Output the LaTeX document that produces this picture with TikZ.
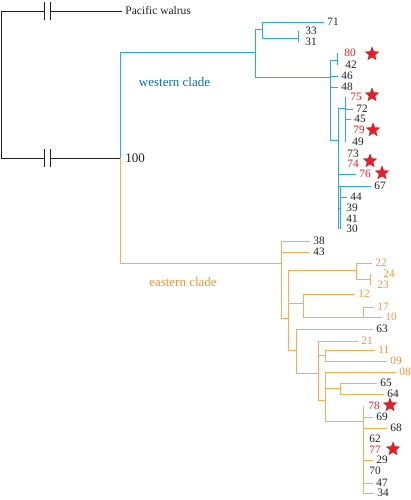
\documentclass[tikz,border=0pt]{standalone}
\usepackage{fontspec}
\setmainfont{Liberation Serif}
\usetikzlibrary{shapes.geometric}

\definecolor{ink}{RGB}{35,31,32}
\definecolor{wline}{RGB}{41,171,226}
\definecolor{wtext}{RGB}{0,114,188}
\definecolor{eline}{RGB}{249,172,80}
\definecolor{etext}{RGB}{247,148,52}
\definecolor{hit}{RGB}{237,28,36}

\tikzset{
  leaf/.style={anchor=west,inner sep=3pt,text=ink,font=\fontsize{11.3}{11.3}\selectfont},
  hitstar/.style={star,star points=5,star point ratio=2.3,minimum size=14pt,inner sep=0pt,
    fill=hit,draw=hit!75!black,line width=0.3pt},
  brk/.pic={\fill[white] (-2.6,-1.5) rectangle (2.6,1.5);
    \draw[ink,line width=0.9pt] (-2.9,-9) -- (-2.9,9) (2.9,-9) -- (2.9,9);}
}

\begin{document}
\begin{tikzpicture}[x=1pt,y=-1pt,line width=0.9pt]
      \useasboundingbox (0,0) rectangle (410,500);

      % forks
      \coordinate (root) at (1,84);
      \coordinate (n100) at (120,158);
      \coordinate (w1)  at (255,52);
      \coordinate (w2)  at (262,29);
      \coordinate (t31) at (298,38);
      \coordinate (w3)  at (330,77);
      \coordinate (t80) at (337,60);
      \coordinate (w4)  at (338,140);
      \coordinate (w5)  at (345,108);
      \coordinate (w6)  at (340,208);
      \coordinate (e1)  at (281,263);
      \coordinate (e2)  at (288,318);
      \coordinate (e3)  at (356,270);
      \coordinate (t24) at (370,279);
      \coordinate (e5)  at (303,303);
      \coordinate (e6)  at (363,317);
      \coordinate (e7)  at (296,350);
      \coordinate (e8)  at (318,373);
      \coordinate (e9)  at (325,355);
      \coordinate (e10) at (325,400);
      \coordinate (e11) at (340,388);
      \coordinate (e12) at (363,421);

      \begin{scope}[every node/.style={leaf}]
        \node[font=\fontsize{11.5}{11.5}\selectfont] (walrus) at (122,11) {Pacific walrus};
        \node[font=\fontsize{13}{13}\selectfont] (b100) at (122,158) {100};
        % western
        \node (l71) at (324,22)  {71};
        \node (l33) at (302,31)  {33};
        \node (l31) at (302,42)  {31};
        \node[text=hit] (l80) at (341,53)  {80};
        \node (l42) at (342,65)  {42};
        \node (l46) at (338,76)  {46};
        \node (l48) at (338,87)  {48};
        \node[text=hit] (l75) at (347,97)  {75};
        \node (l72) at (353,109) {72};
        \node (l45) at (351,119) {45};
        \node[text=hit] (l79) at (350,130) {79};
        \node (l49) at (349,142) {49};
        \node (l73) at (344,154) {73};
        \node[text=hit] (l74) at (344,164) {74};
        \node[text=hit] (l76) at (356,174) {76};
        \node (l67) at (371,186) {67};
        \node (l44) at (347,197) {44};
        \node (l39) at (343,208) {39};
        \node (l41) at (343,219) {41};
        \node (l30) at (343,229) {30};
        % eastern
        \node (l38) at (310,241) {38};
        \node (l43) at (310,252) {43};
        \node[text=etext] (l22) at (372,263) {22};
        \node[text=etext] (l24) at (380,274) {24};
        \node[text=etext] (l23) at (374,285) {23};
        \node[text=etext] (l12) at (355,294) {12};
        \node[text=etext] (l17) at (374,307) {17};
        \node[text=etext] (l10) at (382,317) {10};
        \node (l63) at (373,329) {63};
        \node[text=etext] (l21) at (358,341) {21};
        \node[text=etext] (l11) at (375,350) {11};
        \node[text=etext] (l09) at (387,361) {09};
        \node[text=etext] (l08) at (396,372) {08};
        \node (l65) at (377,383) {65};
        \node (l64) at (384,394) {64};
        \node[text=hit] (l78) at (365,406) {78};
        \node (l69) at (373,417) {69};
        \node (l68) at (387,428) {68};
        \node (l62) at (366,439) {62};
        \node[text=hit] (l77) at (366,450) {77};
        \node (l29) at (373,460) {29};
        \node (l70) at (366,471) {70};
        \node (l47) at (373,483) {47};
        \node (l34) at (374,493) {34};
      \end{scope}

      \node[text=wtext,font=\fontsize{13}{13}\selectfont] (wclade) at (174.5,82) {western clade};
      \node[text=etext,font=\fontsize{13}{13}\selectfont] (eclade) at (183,282) {eastern clade};

      \begin{scope}[every node/.style={hitstar}]
        \node (s80) at (372,54)  {};
        \node (s75) at (372,95)  {};
        \node (s79) at (373,130) {};
        \node (s74) at (370,161) {};
        \node (s76) at (382,173) {};
        \node (s78) at (390,405) {};
        \node (s77) at (393,449) {};
      \end{scope}

      % outgroup
      \begin{scope}[every edge/.style={draw=ink}]
        \path (root|-walrus) edge (root|-n100);
        \path (root|-walrus) edge (walrus);
        \path (root|-n100) edge (n100);
      \end{scope}
      \path (root|-walrus) -- (walrus) coordinate[pos=0.385] (cut1);
      \path (root|-n100) -- (n100) coordinate[pos=0.387] (cut2);
      \pic at (cut1) {brk};
      \pic at (cut2) {brk};

      % western clade
      \begin{scope}[every edge/.style={draw=wline}]
        \path (n100) edge (n100|-w1)  (n100|-w1) edge (w1);
        \path (w1|-w2) edge (w1|-w3)  (w1|-w2) edge (w2)  (w1|-w3) edge (w3);
        \path (w2|-l71) edge (w2|-t31)  (w2|-l71) edge (l71)  (w2|-t31) edge (t31);
        \path (t31|-l33) edge (t31|-l31);
        \path (w3|-t80) edge (w3|-w4)  (w3|-t80) edge (t80)  (t80|-l80) edge (t80|-l42);
        \path (w3|-l46) edge (l46)  (w3|-l48) edge (l48)  (w3|-w4) edge (w4);
        \path (w4|-w5) edge (w4|-l30)  (w4|-w5) edge (w5);
        \path (w5|-l75) edge (w5|-l49)  (w5|-l72) edge (l72)  (w5|-l45) edge (l45);
        \path (w4|-l76) edge (l76)  (w4|-l67) edge (l67);
        \path (w4|-w6) edge (w6)  (w6|-l67) edge (w6|-l30)  (w6|-l44) edge (l44);
      \end{scope}

      % eastern clade
      \begin{scope}[every edge/.style={draw=eline}]
        \path (n100) edge (n100|-e1)  (n100|-e1) edge (e1);
        \path (e1|-l38) edge (e1|-e2)  (e1|-l38) edge (l38)  (e1|-l43) edge (l43)  (e1|-e2) edge (e2);
        \path (e2|-e3) edge (e2|-e7)  (e2|-e3) edge (e3);
        \path (e3|-l22) edge (e3|-t24)  (e3|-l22) edge (l22)  (e3|-t24) edge (t24);
        \path (t24|-l24) edge (t24|-l23);
        \path (e2|-e5) edge (e5)  (e5|-l12) edge (e5|-e6)  (e5|-l12) edge (l12)  (e5|-e6) edge (e6);
        \path (e6|-l17) edge (e6)  (e6|-l17) edge (l17)  (e6) edge (l10);
        \path (e2|-e7) edge (e7)  (e7|-l63) edge (e7|-e8)  (e7|-l63) edge (l63)  (e7|-e8) edge (e8);
        \path (e8|-l21) edge (e8|-e10)  (e8|-l21) edge (l21)  (e8|-e9) edge (e9);
        \path (e9|-l11) edge (e9|-l09)  (e9|-l11) edge (l11)  (e9|-l09) edge (l09);
        \path (e8|-e10) edge (e10)  (e10|-l08) edge (e10|-e12)  (e10|-l08) edge (l08);
        \path (e10|-e11) edge (e11)  (e11|-l65) edge (e11|-l64)  (e11|-l65) edge (l65)  (e11|-l64) edge (l64);
        \path (e10|-e12) edge (e12)  (e12|-l78) edge (e12|-l34);
        \path (e12|-l69) edge (l69)  (e12|-l68) edge (l68)  (e12|-l29) edge (l29);
        \path (e12|-l47) edge (l47)  (e12|-l34) edge (l34);
      \end{scope}

    \end{tikzpicture}
\end{document}
